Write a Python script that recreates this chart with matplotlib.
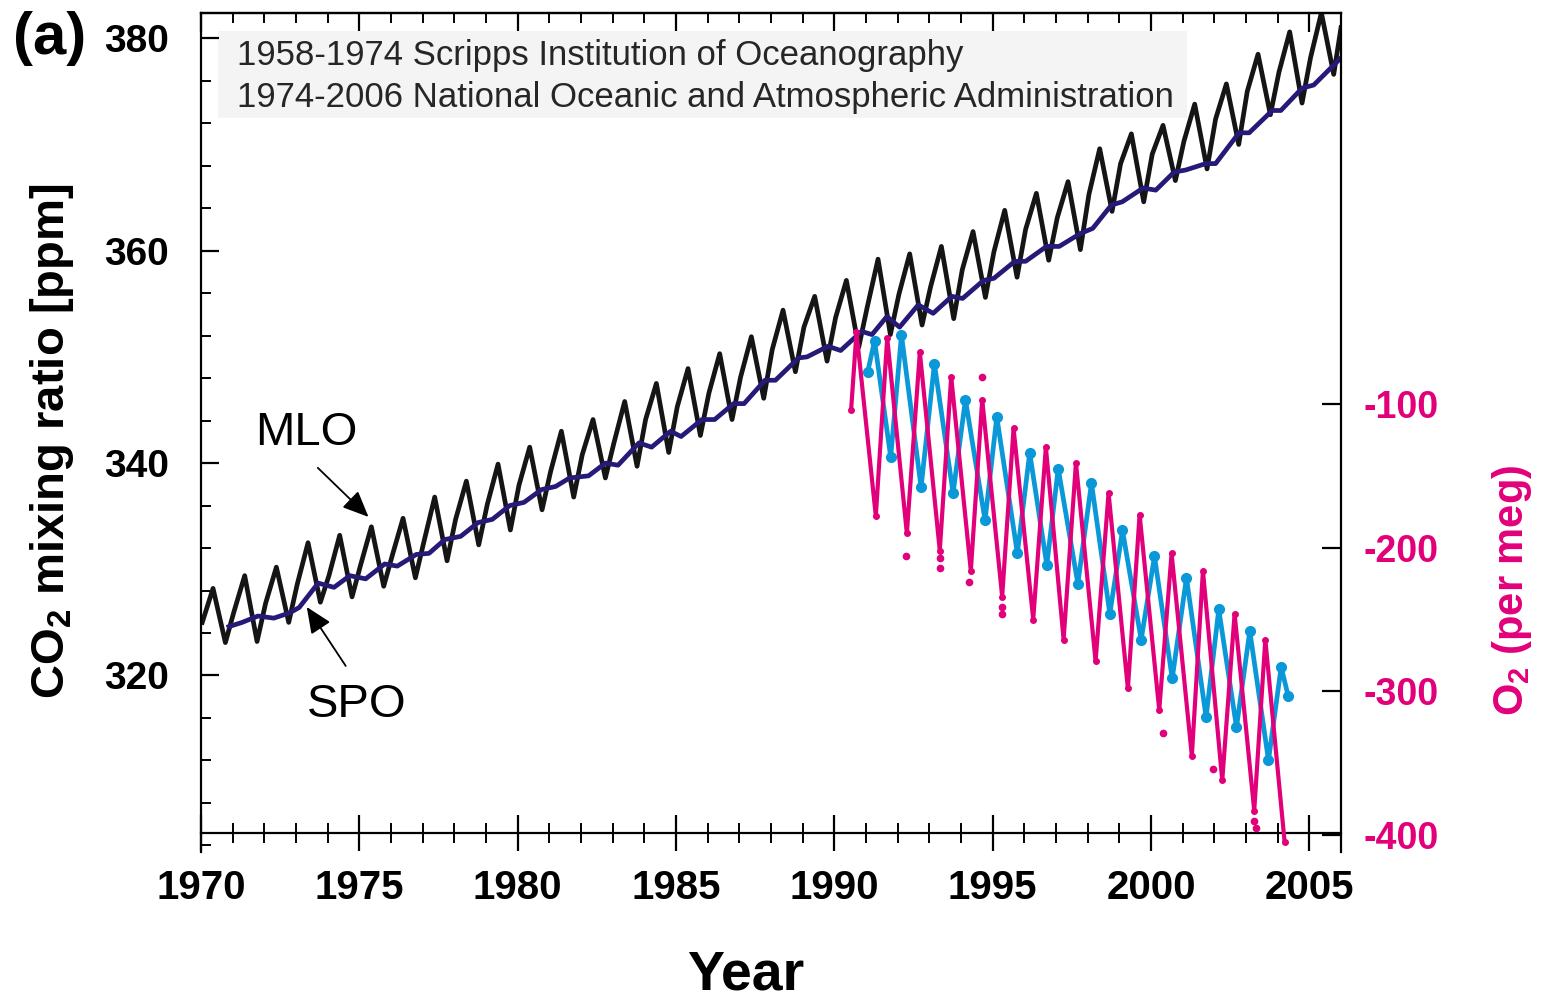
#%%
import numpy as np
import matplotlib
matplotlib.use("Agg")
from matplotlib import pyplot as plt
from matplotlib.ticker import MultipleLocator
from matplotlib.patches import Rectangle

plt.rcParams['font.family'] = ['Liberation Sans', 'DejaVu Sans']
plt.rcParams['mathtext.fontset'] = 'custom'
plt.rcParams['mathtext.rm'] = 'Liberation Sans'
plt.rcParams['mathtext.bf'] = 'Liberation Sans:bold'
plt.rcParams['axes.unicode_minus'] = False

# %%
# Mauna Loa CO2 (ppm): Jan, May (seasonal max), Sep/Oct (seasonal min)
mlo_years = list(range(1970, 2006))
mlo_jan = [325.0, 326.0, 326.8, 328.6, 329.4, 330.4, 331.3, 332.6, 334.7, 336.1,
           337.9, 339.2, 340.8, 341.9, 344.1, 345.3, 346.6, 348.1, 350.7, 352.8,
           353.7, 354.7, 355.9, 356.6, 358.2, 359.9, 362.0, 363.1, 365.3, 368.2,
           369.1, 370.3, 372.4, 375.0, 376.8, 378.2]
mlo_may = [328.2, 329.4, 330.2, 332.5, 333.2, 334.0, 334.8, 336.8, 338.3, 339.9,
           341.5, 343.0, 344.1, 345.8, 347.5, 348.9, 350.3, 351.9, 354.4, 355.7,
           357.2, 359.2, 359.7, 360.4, 361.8, 363.8, 365.4, 366.5, 369.6, 371.0,
           371.8, 373.8, 375.7, 378.5, 380.6, 382.4]
mlo_sep = [323.1, 323.2, 325.0, 326.9, 327.4, 328.4, 329.2, 330.8, 332.3, 333.7,
           335.6, 336.8, 338.6, 339.7, 341.0, 342.6, 344.1, 346.1, 348.6, 349.6,
           350.9, 352.1, 353.0, 353.6, 355.6, 357.5, 359.1, 360.1, 363.7, 364.6,
           366.6, 367.7, 370.0, 372.8, 373.9, 376.6]
mlo_last = 381.0  # Jan 2006

# South Pole CO2 (ppm)
spo_t = [1970.88, 1971.3, 1971.8, 1972.3, 1972.8, 1973.1, 1973.7, 1974.2, 1974.7,
         1975.2, 1975.8, 1976.2, 1976.8, 1977.2, 1977.7, 1978.2, 1978.75, 1979.2,
         1979.75, 1980.2, 1980.75, 1981.2, 1981.64, 1982.24, 1982.77, 1983.17,
         1983.83, 1984.23, 1984.83, 1985.16, 1985.82, 1986.22, 1986.82, 1987.15,
         1987.81, 1988.14, 1988.87, 1989.14, 1989.8, 1990.2, 1990.86, 1991.19,
         1991.66, 1992.06, 1992.65, 1993.12, 1993.71, 1994.05, 1994.71, 1995.04,
         1995.7, 1996.04, 1996.7, 1997.1, 1997.76, 1998.16, 1998.75, 1999.09,
         1999.75, 2000.15, 2000.73, 2001.1, 2001.73, 2002.04, 2002.78, 2003.1,
         2003.83, 2004.1, 2004.77, 2005.14, 2005.98]
spo_v = [324.6, 325.0, 325.6, 325.4, 325.9, 326.4, 328.7, 328.3, 329.4,
         329.1, 330.5, 330.3, 331.4, 331.5, 332.8, 333.1, 334.4, 334.7,
         336.0, 336.3, 337.5, 337.8, 338.6, 338.8, 340.0, 339.8,
         341.9, 341.5, 343.0, 342.5, 344.1, 344.1, 345.6, 345.6,
         347.8, 347.8, 349.9, 350.0, 351.0, 350.6, 352.4, 352.1,
         353.8, 352.8, 354.9, 354.1, 355.7, 355.5, 357.2, 357.4,
         359.0, 359.0, 360.4, 360.4, 361.6, 362.1, 364.3, 364.6,
         365.9, 365.7, 367.4, 367.6, 368.2, 368.2, 371.1, 371.1,
         373.2, 373.2, 375.3, 375.6, 378.1]

# O2 (per meg), pink station
pink_t = [1990.53, 1990.70, 1991.31, 1991.67, 1992.29, 1992.70, 1993.33, 1993.69,
          1994.31, 1994.67, 1995.30, 1995.66, 1996.28, 1996.68, 1997.24, 1997.63,
          1998.25, 1998.66, 1999.27, 1999.64, 2000.26, 2000.65, 2001.29, 2001.64,
          2002.25, 2002.64, 2003.26, 2003.61, 2004.22]
pink_v = [-104, -50, -178, -54, -190, -64, -202, -81,
          -216, -97, -234, -117, -250, -130, -264, -141,
          -279, -162, -298, -177, -313, -204, -345, -216,
          -362, -246, -383, -264, -405]
pink_out_t = [1994.65, 1992.26, 1993.33, 1993.33, 1994.26, 1995.30, 1995.30,
              2000.39, 2001.97, 2003.26, 2003.32]
pink_out_v = [-81, -206, -207, -214, -224, -241, -246, -329, -354, -390, -395]

# O2 (per meg), blue station
blue_t = [1991.05, 1991.27, 1991.78, 1992.12, 1992.74, 1993.16, 1993.75, 1994.14,
          1994.76, 1995.13, 1995.78, 1996.17, 1996.71, 1997.07, 1997.69, 1998.12,
          1998.70, 1999.10, 1999.69, 2000.11, 2000.67, 2001.12, 2001.74, 2002.14,
          2002.70, 2003.12, 2003.71, 2004.11, 2004.33]
blue_v = [-78, -56, -137, -52, -158, -72, -162, -97,
          -181, -109, -204, -134, -212, -145, -225, -155,
          -246, -188, -264, -206, -291, -221, -318, -243,
          -325, -258, -348, -283, -303]

# %%
mlo_t, mlo_v = [], []
for yr, j, m, s in zip(mlo_years, mlo_jan, mlo_may, mlo_sep):
    mlo_t += [yr + 0.04, yr + 0.38, yr + 0.77]
    mlo_v += [j, m, s]
mlo_t.append(2006.0)
mlo_v.append(mlo_last)

PINK = '#e2007a'
BLUE = '#0a98d8'
NAVY = '#261a78'

W, H = 1542, 1002
fig = plt.figure(figsize=(W / 100, H / 100), dpi=100)
ax = fig.add_axes([201 / W, 1 - 852 / H, 1140 / W, 839 / H])

ax.plot(mlo_t, mlo_v, color='#151515', lw=3.4, zorder=2, solid_joinstyle='round')
ax.plot(spo_t, spo_v, color=NAVY, lw=3.4, zorder=3, solid_joinstyle='round')

ax.set_xlim(1970, 2006)
ax.set_ylim(303.38, 382.38)

# gray box behind the data source text
ax.add_patch(Rectangle((218 / W, 1 - 118 / H), (1187 - 218) / W, (118 - 31) / H,
                       transform=fig.transFigure, facecolor='#f4f4f4',
                       edgecolor='none', zorder=0.5))

ax.spines['bottom'].set_position(('data', 305.17))
ax.spines['right'].set_visible(False)
for s in ax.spines.values():
    s.set_linewidth(1.6)

ax.xaxis.set_major_locator(MultipleLocator(5))
ax.xaxis.set_minor_locator(MultipleLocator(1))
ax.tick_params(axis='x', which='major', direction='inout', length=26, width=1.6,
               labelsize=29, pad=13)
ax.tick_params(axis='x', which='minor', direction='inout', length=14, width=1.4)
for lab in ax.get_xticklabels():
    lab.set_fontweight('bold')

ax.set_yticks([320, 340, 360, 380])
ax.yaxis.set_minor_locator(MultipleLocator(4))
ax.tick_params(axis='y', which='major', direction='in', length=13, width=1.6,
               labelsize=28, pad=23)
ax.tick_params(axis='y', which='minor', direction='in', length=7, width=1.4)
for lab in ax.get_yticklabels():
    lab.set_fontweight('bold')

sec = ax.secondary_xaxis('top')
sec.xaxis.set_major_locator(MultipleLocator(5))
sec.xaxis.set_minor_locator(MultipleLocator(1))
sec.tick_params(axis='x', which='major', direction='in', length=13.5, width=1.6)
sec.tick_params(axis='x', which='minor', direction='in', length=7, width=1.4)
sec.tick_params(axis='x', which='both', labeltop=False, labelbottom=False)
sec.spines['top'].set_linewidth(1.6)

# O2 on the right axis
ax2 = ax.twinx()
ax2.plot(blue_t, blue_v, color=BLUE, lw=3.4, marker='o', ms=7, zorder=2,
         solid_joinstyle='round')
ax2.plot(pink_t, pink_v, color=PINK, lw=3.0, marker='o', ms=4, zorder=3,
         solid_joinstyle='round')
ax2.plot(pink_out_t, pink_out_v, 'o', color=PINK, ms=4.5, lw=0, zorder=3)
ax2.set_ylim(-411.8, 172.1)
ax2.set_yticks([-100, -200, -300, -400])
ax2.tick_params(axis='y', direction='in', length=14, width=1.6, labelsize=27,
                labelcolor=PINK, pad=16)
for lab in ax2.get_yticklabels():
    lab.set_fontweight('bold')
for side in ['top', 'bottom', 'left']:
    ax2.spines[side].set_visible(False)
ax2.spines['right'].set_linewidth(1.6)

# arrows and station labels
arrow_kw = dict(arrowstyle='-|>,head_length=0.8,head_width=0.35', color='black',
                lw=1.3, shrinkA=0, shrinkB=0, mutation_scale=20)
ax.annotate('', xy=(1975.29, 334.93), xytext=(1973.69, 339.55), arrowprops=arrow_kw)
ax.text(1973.31, 342.84, 'MLO', fontsize=34, ha='center', va='center')
ax.annotate('', xy=(1973.34, 326.45), xytext=(1974.57, 320.9), arrowprops=arrow_kw)
ax.text(1974.92, 317.2, 'SPO', fontsize=34, ha='center', va='center')

# texts outside / on top of the axes
fig.text(237 / W, 1 - 55 / H, '1958-1974 Scripps Institution of Oceanography',
         fontsize=25, color='#262626', ha='left', va='center')
fig.text(237 / W, 1 - 97 / H, '1974-2006 National Oceanic and Atmospheric Administration',
         fontsize=25, color='#262626', ha='left', va='center')
fig.text(50 / W, 1 - 38 / H, '(a)', fontsize=43, fontweight='bold', ha='center', va='center')
fig.text(52 / W, 1 - 441 / H, r'CO$_\mathbf{2}$ mixing ratio [ppm]', rotation=90,
         fontsize=34, fontweight='bold', ha='center', va='center')
fig.text(1512 / W, 1 - 590 / H, r'O$_\mathbf{2}$ (per meg)', rotation=90,
         fontsize=30, fontweight='bold', color=PINK, ha='center', va='center')
fig.text(746 / W, 1 - 975 / H, 'Year', fontsize=40, fontweight='bold',
         ha='center', va='center')

fig.savefig('out.png', dpi=100)
